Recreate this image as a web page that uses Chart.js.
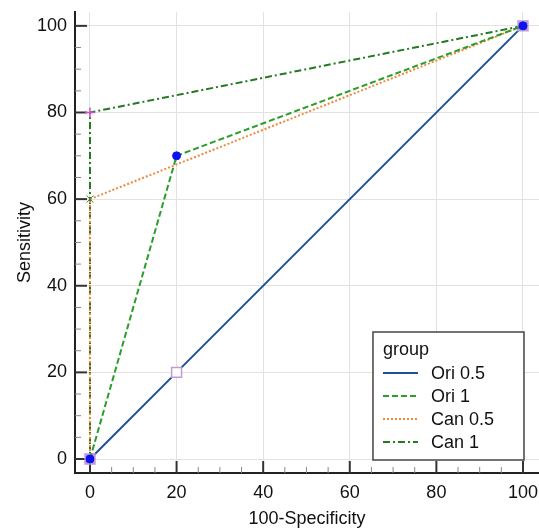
<!DOCTYPE html>
<html>
<head>
<meta charset="utf-8">
<title>ROC curves</title>
<script src="https://cdn.jsdelivr.net/npm/chart.js@4.4.0/dist/chart.umd.min.js"></script>
<style>
  html, body { margin: 0; padding: 0; background: #fff; }
</style>
</head>
<body>
<canvas id="roc" width="539" height="529"></canvas>
<script>
// values (x = 100-Specificity, y = Sensitivity)
const seriesNames = ['Ori 0.5', 'Ori 1', 'Can 0.5', 'Can 1'];
const ori05X = [0, 20, 100];
const ori05Y = [0, 20, 100];
const ori1X = [0, 20, 100];
const ori1Y = [0, 70, 100];
const can05X = [0, 0, 100];
const can05Y = [0, 60, 100];
const can1X = [0, 0, 100];
const can1Y = [0, 80, 100];
const xTickVals = [0, 20, 40, 60, 80, 100];
const yTickVals = [0, 20, 40, 60, 80, 100];
const minorStep = 5;
const legendTitle = 'group';
const xTitle = '100-Specificity';
const yTitle = 'Sensitivity';

const FONT = "'Liberation Sans', Arial, sans-serif";
Chart.defaults.font.family = FONT;

function pts(xs, ys) {
  return xs.map((x, i) => ({ x: x, y: ys[i] }));
}

// ticks drawn inside the axes, majors + minors
const innerTicks = {
  id: 'innerTicks',
  beforeDatasetsDraw(chart) {
    const { ctx, chartArea: a } = chart;
    const xs = chart.scales.x, ys = chart.scales.y;
    const lo = xTickVals[0], hi = xTickVals[xTickVals.length - 1];
    ctx.save();
    for (let v = lo; v <= hi; v += minorStep) {
      const major = xTickVals.includes(v);
      const len = major ? 12 : 6;
      ctx.strokeStyle = major ? '#333' : '#888';
      ctx.lineWidth = major ? 2 : 1;
      const px = xs.getPixelForValue(v);
      ctx.beginPath();
      ctx.moveTo(px, a.bottom);
      ctx.lineTo(px, a.bottom - len);
      ctx.stroke();
      const py = ys.getPixelForValue(v);
      ctx.beginPath();
      ctx.moveTo(a.left, py);
      ctx.lineTo(a.left + len, py);
      ctx.stroke();
    }
    ctx.restore();
  }
};

// boxed legend in the lower right of the plot
const boxLegend = {
  id: 'boxLegend',
  afterDraw(chart) {
    const { ctx, chartArea: a } = chart;
    const right = chart.scales.x.getPixelForValue(xTickVals[xTickVals.length - 1]) + 1;
    const bottom = a.bottom - 13;
    const w = 151, h = 128;
    const left = right - w, top = bottom - h;
    ctx.save();
    ctx.fillStyle = '#fff';
    ctx.fillRect(left, top, w, h);
    ctx.strokeStyle = '#444';
    ctx.lineWidth = 1.5;
    ctx.strokeRect(left, top, w, h);
    ctx.font = '18px ' + FONT;
    ctx.fillStyle = '#111';
    ctx.textBaseline = 'middle';
    ctx.textAlign = 'left';
    ctx.fillText(legendTitle, left + 10, top + 18);
    chart.data.datasets.forEach((ds, i) => {
      const cy = top + 41 + i * 23;
      ctx.strokeStyle = ds.borderColor;
      ctx.lineWidth = 2;
      ctx.setLineDash(ds.borderDash || []);
      ctx.beginPath();
      ctx.moveTo(left + 10, cy);
      ctx.lineTo(left + 45, cy);
      ctx.stroke();
      ctx.setLineDash([]);
      ctx.fillText(ds.label, left + 58, cy + 1);
    });
    ctx.restore();
  }
};

const axisFont = { family: FONT, size: 18 };

new Chart(document.getElementById('roc'), {
  type: 'scatter',
  data: {
    datasets: [
      {
        label: seriesNames[0],
        data: pts(ori05X, ori05Y),
        showLine: true,
        order: 1,
        borderColor: '#1f4e9e',
        borderWidth: 2,
        borderDash: [],
        pointStyle: 'rect',
        pointRadius: 7,
        pointBorderWidth: 1.5,
        pointBorderColor: '#c39bd3',
        pointBackgroundColor: ['#b58ee0', '#ffffff', '#b58ee0']
      },
      {
        label: seriesNames[1],
        data: pts(ori1X, ori1Y),
        showLine: true,
        order: 0,
        borderColor: '#2a9d2a',
        borderWidth: 2,
        borderDash: [6, 3],
        pointStyle: 'circle',
        pointRadius: 4,
        pointBorderWidth: 1,
        pointBorderColor: '#0a14f0',
        pointBackgroundColor: '#0a14f0'
      },
      {
        label: seriesNames[2],
        data: pts(can05X, can05Y),
        showLine: true,
        order: 2,
        borderColor: '#f0883a',
        borderWidth: 2,
        borderDash: [2, 2],
        pointStyle: 'crossRot',
        pointRadius: 5,
        pointBorderWidth: 1,
        pointBorderColor: '#3c8c3c'
      },
      {
        label: seriesNames[3],
        data: pts(can1X, can1Y),
        showLine: true,
        order: 3,
        borderColor: '#237a23',
        borderWidth: 2,
        borderDash: [7, 3, 2, 3],
        pointStyle: 'cross',
        pointRadius: 5,
        pointBorderWidth: 1.5,
        pointBorderColor: '#d050d0'
      }
    ]
  },
  options: {
    responsive: false,
    animation: false,
    layout: { autoPadding: false, padding: { top: 12, right: 0, bottom: 0, left: 0 } },
    plugins: {
      legend: { display: false },
      tooltip: { enabled: false }
    },
    scales: {
      x: {
        type: 'linear',
        min: -3.46,
        max: 103.7,
        afterBuildTicks(s) { s.ticks = xTickVals.map(v => ({ value: v })); },
        afterFit(s) { s.height = 56; s.paddingLeft = 0; s.paddingRight = 0; },
        grid: { color: '#e2e2e2', lineWidth: 1, drawTicks: false },
        border: { display: true, color: '#222', width: 2 },
        ticks: {
          padding: 9, maxRotation: 0, autoSkip: false,
          color: '#111', font: axisFont
        },
        title: {
          display: true, text: xTitle, color: '#111',
          font: { family: FONT, size: 18, lineHeight: 1.1 },
          padding: { top: 0, bottom: 0 }
        }
      },
      y: {
        type: 'linear',
        min: -3.23,
        max: 103.2,
        afterBuildTicks(s) { s.ticks = yTickVals.map(v => ({ value: v })); },
        afterFit(s) { s.width = 75; s.paddingTop = 0; s.paddingBottom = 0; },
        grid: { color: '#e2e2e2', lineWidth: 1, drawTicks: false },
        border: { display: true, color: '#222', width: 2 },
        ticks: {
          padding: 8, color: '#111', font: axisFont
        },
        title: {
          display: true, text: yTitle, color: '#111', font: axisFont,
          padding: { top: 14, bottom: 0 }
        }
      }
    }
  },
  plugins: [innerTicks, boxLegend]
});
</script>
</body>
</html>
